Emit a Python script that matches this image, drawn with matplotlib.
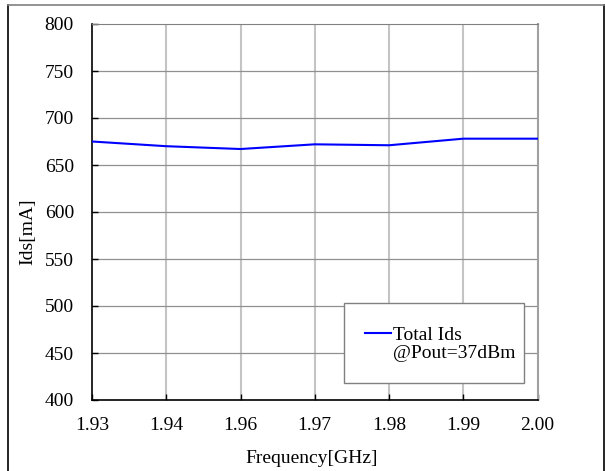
import matplotlib
matplotlib.use("Agg")
import matplotlib.pyplot as plt
from matplotlib.lines import Line2D
from matplotlib.patches import Rectangle

freq_labels = ["1.93", "1.94", "1.96", "1.97", "1.98", "1.99", "2.00"]
ids_total = [675, 670, 667, 672, 671, 678, 678]
y_ticks = [400, 450, 500, 550, 600, 650, 700, 750, 800]
legend_lines = ["Total Ids", "@Pout=37dBm"]

plt.rcParams['font.family'] = ['Liberation Serif', 'DejaVu Serif']
W, H = 605, 471
FS = 14
fig = plt.figure(figsize=(W / 100, H / 100), dpi=100)
L, R, T, B = 92, 537.5, 24, 400
ax = fig.add_axes([L / W, 1 - B / H, (R - L) / W, (B - T) / H])

x = list(range(len(freq_labels)))
line, = ax.plot(x, ids_total, color='#0000ff', lw=1.5, zorder=3)

ax.set_xlim(0, len(freq_labels) - 1)
ax.set_ylim(400, 800)
ax.set_yticks(y_ticks)
ax.set_xticks(x)
ax.set_xticklabels(freq_labels)
ax.tick_params(axis='both', direction='in', labelsize=FS, length=4, width=1, color='black')
ax.tick_params(axis='y', pad=13)
ax.tick_params(axis='x', pad=12)

for xv in x[1:-1]:
    ax.axvline(xv, color='#c4c4c4', lw=1.5, zorder=1)
for yv in y_ticks[1:-1]:
    ax.axhline(yv, color='#909090', lw=0.9, zorder=1)

ax.spines['left'].set_color('black')
ax.spines['bottom'].set_color('black')
ax.spines['left'].set_linewidth(1.2)
ax.spines['bottom'].set_linewidth(1.2)
ax.spines['top'].set_color('#808080')
ax.spines['right'].set_color('#a0a0a0')
ax.spines['right'].set_linewidth(1.5)

ax.set_xlabel("Frequency[GHz]", fontsize=FS)
ax.set_ylabel("Ids[mA]", fontsize=FS)
ax.xaxis.set_label_coords((311.5 - L) / (R - L), -(450 - B) / (B - T))
ax.yaxis.set_label_coords(-(L - 36) / (R - L), (B - 231.5) / (B - T))

# legend box
bx0, by0, bx1, by1 = 344, 303, 524, 383
rect = Rectangle((bx0 / W, 1 - by1 / H), (bx1 - bx0) / W, (by1 - by0) / H,
                 transform=fig.transFigure, facecolor='white', edgecolor='#808080',
                 lw=1, zorder=5, clip_on=False)
ax.add_patch(rect)
blank = Line2D([], [], color='none')
leg = ax.legend(handles=[line, blank], labels=legend_lines, loc='upper left',
                bbox_to_anchor=(365 / W, 1 - 326 / H),
                bbox_transform=fig.transFigure, frameon=False, fontsize=FS,
                handlelength=1.35, handletextpad=0.1, borderpad=0, borderaxespad=0,
                labelspacing=0.05)
leg.set_zorder(6)

# outer border
fig.add_artist(Line2D([8 / W, 8 / W], [0, 1 - 4.5 / H], transform=fig.transFigure, color='black', lw=1.2))
fig.add_artist(Line2D([603.5 / W, 603.5 / W], [0, 1 - 4.5 / H], transform=fig.transFigure, color='black', lw=1.2))
fig.add_artist(Line2D([8 / W, 603.5 / W], [1 - 4.5 / H, 1 - 4.5 / H], transform=fig.transFigure, color='#808080', lw=1.2))

fig.savefig("out.png", dpi=100)
